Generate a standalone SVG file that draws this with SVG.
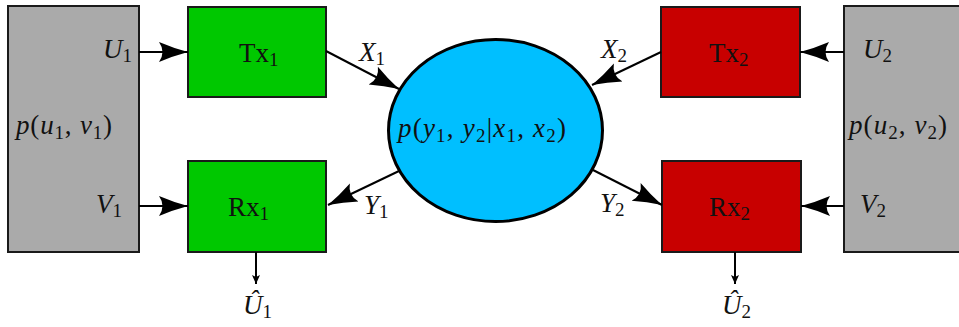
<svg xmlns="http://www.w3.org/2000/svg" width="959" height="327" viewBox="0 0 959 327">
<style>
.box{stroke:#1a1a1a;stroke-width:2}
.gray{fill:#aaaaaa}
.green{fill:#00c800}
.red{fill:#c80000}
.t{font-family:"Liberation Serif","DejaVu Serif",serif;font-size:27px;fill:#111}
.i{font-style:italic}
.s{font-size:19px;font-style:normal}
.c{stroke:#000;stroke-width:2;fill:none}
</style>
<defs>
<marker id="big" markerUnits="userSpaceOnUse" markerWidth="32" markerHeight="24" refX="29" refY="12" orient="auto" viewBox="0 0 32 24">
<path d="M0,2 Q14,8 29,12 Q14,16 0,22 Q7,12 0,2 Z" fill="#000"/>
</marker>
<marker id="small" markerUnits="userSpaceOnUse" markerWidth="10" markerHeight="10" refX="9" refY="5" orient="auto" viewBox="0 0 10 10">
<path d="M0,1 L9,5 L0,9 L2,5 Z" fill="#000"/>
</marker>
</defs>

<g id="source1">
<rect class="box gray" x="8" y="6" width="131" height="246"/>
<text class="t i" x="16" y="134" textLength="96">p<tspan font-style="normal">(</tspan>u<tspan class="s" dy="5">1</tspan><tspan dy="-5" font-style="normal">, </tspan>v<tspan class="s" dy="5">1</tspan><tspan dy="-5" font-style="normal">)</tspan></text>
<text class="t i" x="103" y="58">U<tspan class="s" dy="4">1</tspan></text>
<text class="t i" x="96" y="213">V<tspan class="s" dy="4">1</tspan></text>
</g>

<g id="source2">
<rect class="box gray" x="844" y="6" width="122" height="246"/>
<text class="t i" x="849" y="134" textLength="98">p<tspan font-style="normal">(</tspan>u<tspan class="s" dy="5">2</tspan><tspan dy="-5" font-style="normal">, </tspan>v<tspan class="s" dy="5">2</tspan><tspan dy="-5" font-style="normal">)</tspan></text>
<text class="t i" x="863" y="58">U<tspan class="s" dy="4">2</tspan></text>
<text class="t i" x="860" y="213">V<tspan class="s" dy="4">2</tspan></text>
</g>

<g id="tx1">
<rect class="box green" x="188" y="7" width="138" height="90"/>
<text class="t" x="239" y="62">Tx<tspan class="s" dy="4">1</tspan></text>
</g>
<g id="rx1">
<rect class="box green" x="188" y="161" width="138" height="91"/>
<text class="t" x="228" y="216">Rx<tspan class="s" dy="4">1</tspan></text>
</g>
<g id="tx2">
<rect class="box red" x="661" y="7" width="139" height="90"/>
<text class="t" x="709" y="62">Tx<tspan class="s" dy="4">2</tspan></text>
</g>
<g id="rx2">
<rect class="box red" x="662" y="161" width="139" height="91"/>
<text class="t" x="709" y="216">Rx<tspan class="s" dy="4">2</tspan></text>
</g>

<g id="channel">
<ellipse cx="495.5" cy="130.5" rx="107" ry="91" fill="#00bfff" stroke="#000" stroke-width="3"/>
<text class="t i" x="398" y="137" textLength="168">p<tspan font-style="normal">(</tspan>y<tspan class="s" dy="5">1</tspan><tspan dy="-5" font-style="normal">, </tspan>y<tspan class="s" dy="5">2</tspan><tspan dy="-5" font-style="normal">|</tspan>x<tspan class="s" dy="5">1</tspan><tspan dy="-5" font-style="normal">, </tspan>x<tspan class="s" dy="5">2</tspan><tspan dy="-5" font-style="normal">)</tspan></text>
</g>

<g id="connectors">
<path class="c" d="M139,52 L188,52" marker-end="url(#big)"/>
<path class="c" d="M139,206 L188,206" marker-end="url(#big)"/>
<path class="c" d="M844,52 L800,52" marker-end="url(#big)"/>
<path class="c" d="M844,206 L801,206" marker-end="url(#big)"/>
<path class="c" d="M326,51 L399,89" marker-end="url(#big)"/>
<path class="c" d="M661,52 L592,85" marker-end="url(#big)"/>
<path class="c" d="M399,171 L328,205" marker-end="url(#big)"/>
<path class="c" d="M593,170 L662,205" marker-end="url(#big)"/>
<path class="c" stroke-width="1.5" d="M256,252 L256,284" marker-end="url(#small)"/>
<path class="c" stroke-width="1.5" d="M735,252 L735,284" marker-end="url(#small)"/>
<text class="t i" x="359" y="61">X<tspan class="s" dy="4">1</tspan></text>
<text class="t i" x="601" y="58">X<tspan class="s" dy="4">2</tspan></text>
<text class="t i" x="364" y="214">Y<tspan class="s" dy="4">1</tspan></text>
<text class="t i" x="600" y="212">Y<tspan class="s" dy="4">2</tspan></text>
<text class="t i" x="243" y="314">Û<tspan class="s" dy="4">1</tspan></text>
<text class="t i" x="722" y="314">Û<tspan class="s" dy="4">2</tspan></text>
</g>
</svg>
